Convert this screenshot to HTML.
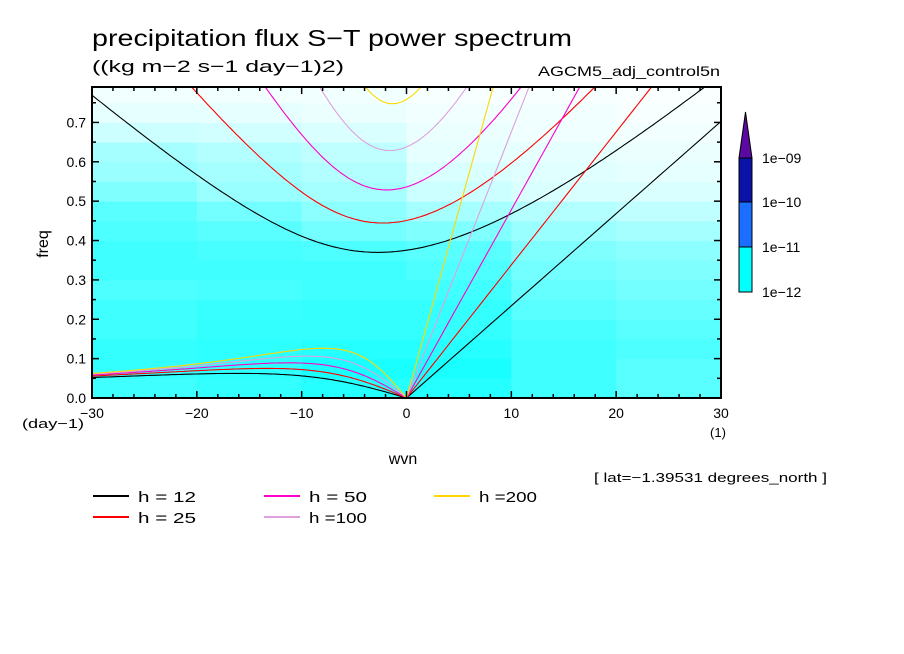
<!DOCTYPE html>
<html><head><meta charset="utf-8"><style>
body{margin:0;background:#fff;}
svg{display:block;font-family:"Liberation Sans",sans-serif;}
</style></head><body>
<svg id="c" width="904" height="654" viewBox="0 0 904 654">
<rect width="904" height="654" fill="#fff"/>
<text x="92" y="46" font-size="23" textLength="480" lengthAdjust="spacingAndGlyphs">precipitation flux S−T power spectrum</text>
<text x="92" y="72" font-size="17" textLength="252" lengthAdjust="spacingAndGlyphs">((kg m−2 s−1 day−1)2)</text>
<text x="538" y="76" font-size="14" textLength="182" lengthAdjust="spacingAndGlyphs">AGCM5_adj_control5n</text>
<g id="field"></g>
<g id="curves"></g>
<g id="axes"></g>
<text x="403" y="464" font-size="16" text-anchor="middle">wvn</text>
<text x="48" y="244" font-size="16" text-anchor="middle" transform="rotate(-90 48 244)">freq</text>
<text x="22" y="428" font-size="13" textLength="62" lengthAdjust="spacingAndGlyphs">(day−1)</text>
<text x="718" y="437" font-size="13" text-anchor="middle">(1)</text>
<text x="594" y="482" font-size="13" textLength="233" lengthAdjust="spacingAndGlyphs">[ lat=−1.39531 degrees_north ]</text>
<g id="legend"></g>
<g id="cbar"></g>
</svg>
<script>
const NS="http://www.w3.org/2000/svg";
// data
const wvnEdges=[-30,-20,-10,0,10,20,30];
const freqEdges=[0,0.05,0.1,0.15,0.2,0.25,0.3,0.35,0.4,0.45,0.5,0.55,0.6,0.65,0.7,0.75,0.79];
// cyan coverage fraction per freq band (rows bottom->top) x wvn band
const coverage=[
[0.75,0.8,0.85,0.85,0.75,0.65],
[0.8,0.82,0.9,0.9,0.75,0.65],
[0.8,0.82,0.85,0.85,0.75,0.7],
[0.75,0.8,0.8,0.8,0.72,0.65],
[0.75,0.78,0.8,0.8,0.65,0.6],
[0.7,0.72,0.75,0.75,0.6,0.55],
[0.75,0.75,0.75,0.7,0.55,0.5],
[0.75,0.72,0.7,0.65,0.5,0.45],
[0.7,0.65,0.55,0.5,0.4,0.35],
[0.65,0.55,0.45,0.35,0.3,0.25],
[0.5,0.4,0.35,0.2,0.15,0.15],
[0.4,0.35,0.3,0.15,0.12,0.1],
[0.35,0.3,0.25,0.1,0.1,0.08],
[0.2,0.18,0.15,0.08,0.06,0.05],
[0.1,0.1,0.08,0.05,0.05,0.03],
[0.05,0.05,0.05,0.03,0.03,0.02]];
const depths=[12,25,50,100,200];
const depthColors=["#000000","#ff0000","#ff00cc","#dda0dd","#ffd700"];
const xTicks=[-30,-20,-10,0,10,20,30];
const yTicks=[0,0.1,0.2,0.3,0.4,0.5,0.6,0.7];
const cbarLevels=["1e-12","1e-11","1e-10","1e-09"];
const cbarColors=["#00ffff","#1a6fff","#0a12a8","#5a0aa0"];

const X0=92,X1=721,Y0=398,Y1=87,FMAX=0.79;
const sx=v=>X0+(v+30)/60*(X1-X0);
const sy=f=>Y0-f/FMAX*(Y0-Y1);
function mk(tag,at,parent){const e=document.createElementNS(NS,tag);for(const k in at)e.setAttribute(k,at[k]);parent.appendChild(e);return e;}
const field=document.getElementById('field');
for(let r=0;r<coverage.length;r++)for(let c=0;c<coverage[r].length;c++){
  const d=coverage[r][c];const rr=Math.round(255*(1-d));
  const e=mk('rect',{x:sx(wvnEdges[c]),y:sy(freqEdges[r+1]),width:sx(wvnEdges[c+1])-sx(wvnEdges[c])+0.5,height:sy(freqEdges[r])-sy(freqEdges[r+1])+0.5,fill:`rgb(${rr},255,255)`},field);
  
  
}
// dispersion curves
const Re=6.371e6,beta=2*7.292e-5/Re,g=9.81,toCpd=86400/(2*Math.PI);
const cg=document.getElementById('curves');
cg.setAttribute('clip-path','url(#clipP)');
const cp=mk('clipPath',{id:'clipP'},document.getElementById('c'));
mk('rect',{x:X0,y:Y1,width:X1-X0,height:Y0-Y1},cp);
function poly(pts,col,name){const e=mk('polyline',{points:pts.map(p=>sx(p[0]).toFixed(1)+','+sy(p[1]).toFixed(1)).join(' '),fill:'none',stroke:col,'stroke-width':1.1},cg);}
depths.forEach((h,i)=>{
  const c=Math.sqrt(g*h),col=depthColors[i];
  const ros=[],kel=[],ig=[];
  for(let w=-30;w<=0.001;w+=0.25){const k=w/Re;ros.push([w,-beta*k/(k*k+3*beta/c)*toCpd]);}
  for(let w=0;w<=30;w+=1){kel.push([w,w/Re*c*toCpd]);}
  for(let w=-30;w<=30.001;w+=0.25){const k=w/Re;let om=Math.sqrt(3*beta*c+k*k*c*c);
    for(let it=0;it<20;it++){const f=om*om*om-(k*k*c*c+3*beta*c)*om-k*beta*c*c;const fp=3*om*om-(k*k*c*c+3*beta*c);om-=f/fp;}
    ig.push([w,om*toCpd]);}
  poly(ros,col,'rossby-curve-h'+h);poly(kel,col,'kelvin-line-h'+h);poly(ig,col,'gravity-curve-h'+h);
});
// axes
const ax=document.getElementById('axes');
const fr=mk('rect',{x:X0,y:Y1,width:X1-X0,height:Y0-Y1,fill:'none',stroke:'#000','stroke-width':2},ax);

for(let v=-30;v<=30;v+=2){const L=(v%10===0)?7:4;mk('line',{x1:sx(v),x2:sx(v),y1:Y0,y2:Y0-L,stroke:'#000','stroke-width':1.5},ax);mk('line',{x1:sx(v),x2:sx(v),y1:Y1,y2:Y1+L,stroke:'#000','stroke-width':1.5},ax);}
for(let f=0;f<=0.78;f+=0.05){const L=(Math.round(f*20)%2===0)?7:4;mk('line',{x1:X0,x2:X0+L,y1:sy(f),y2:sy(f),stroke:'#000','stroke-width':1.5},ax);mk('line',{x1:X1,x2:X1-L,y1:sy(f),y2:sy(f),stroke:'#000','stroke-width':1.5},ax);}
xTicks.forEach(v=>{const t=mk('text',{x:sx(v),y:Y0+20,'font-size':14,'text-anchor':'middle'},ax);t.textContent=v<0?'−'+(-v):String(v);});
yTicks.forEach(f=>{const t=mk('text',{x:X0-6,y:sy(f)+5,'font-size':14,'text-anchor':'end'},ax);t.textContent=f.toFixed(1);});
// legend
const lg=document.getElementById('legend');
const lpos=[[93,496],[93,517],[264,496],[264,517],[434,496]];
const lbl=["h = 12","h = 25","h = 50","h =100","h =200"];
depths.forEach((h,i)=>{const [x,y]=lpos[i];
  const l=mk('line',{x1:x,x2:x+36,y1:y,y2:y,stroke:depthColors[i],'stroke-width':2},lg);
  const t=mk('text',{x:x+45,y:y+6,'font-size':15,textLength:58,lengthAdjust:'spacingAndGlyphs'},lg);t.textContent=lbl[i];});
// colorbar
const cb=document.getElementById('cbar');
const cbY=[292,247,202,158];
for(let i=0;i<3;i++){const r=mk('rect',{x:739,y:cbY[i+1],width:13,height:cbY[i]-cbY[i+1],fill:cbarColors[i],stroke:'#000','stroke-width':1},cb);}
const tri=mk('polygon',{points:'739,158 752,158 745.5,112',fill:cbarColors[3],stroke:'#000','stroke-width':1},cb);
cbarLevels.forEach((s,i)=>{const t=mk('text',{x:762,y:cbY[i]+5,'font-size':14},cb);t.textContent=s.replace('-','−');});
</script>
</body></html>
